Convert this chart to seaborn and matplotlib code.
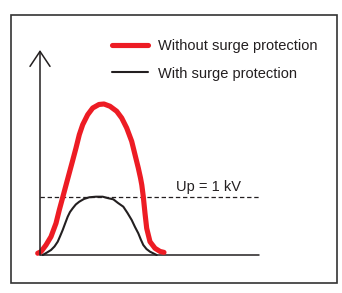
import numpy as np
import pandas as pd
import seaborn as sns
import matplotlib.pyplot as plt
from matplotlib.patches import Rectangle

# curves (time in arbitrary units, voltage in kV)
t_without = [-0.115, 0.05, 0.3, 0.55, 0.8, 0.965, 1.145, 1.325, 1.505, 1.62, 1.8,
             1.965, 2.135, 2.385, 2.635, 2.95, 3.2, 3.5, 3.835, 4.085, 4.335, 4.585,
             4.75, 4.915, 5.025, 5.09, 5.165, 5.25, 5.335, 5.5, 5.75, 6.0, 6.2]
v_without = [0.03, 0.057, 0.172, 0.316, 0.547, 0.776, 1.005, 1.236, 1.466, 1.612, 1.845,
             2.074, 2.247, 2.419, 2.534, 2.595, 2.603, 2.564, 2.478, 2.362, 2.19, 1.96,
             1.729, 1.5, 1.328, 1.207, 1.005, 0.719, 0.46, 0.229, 0.116, 0.062, 0.045]

t_with = [0.135, 0.35, 0.55, 0.725, 0.885, 1.01, 1.135, 1.26, 1.385, 1.5, 1.635, 1.79,
          1.965, 2.2, 2.465, 2.8, 3.135, 3.4, 3.665, 3.9, 4.165, 4.375, 4.585, 4.75,
          4.915, 5.04, 5.165, 5.325, 5.5, 5.835]
v_with = [0.0, 0.043, 0.086, 0.147, 0.229, 0.328, 0.431, 0.547, 0.66, 0.741, 0.805,
          0.871, 0.919, 0.966, 0.995, 1.005, 1.005, 0.98, 0.96, 0.897, 0.833, 0.724,
          0.603, 0.483, 0.374, 0.267, 0.172, 0.103, 0.057, 0.0]

up_level = 1.0
labels = ["Without surge protection", "With surge protection"]

sns.set_style("white")
plt.rcParams['font.family'] = ['Liberation Sans', 'DejaVu Sans']

W, H = 342, 293
fig = plt.figure(figsize=(W / 100, H / 100), dpi=100)
ax = fig.add_axes([40 / W, (H - 255) / H, 219 / W, 205 / H])

df1 = pd.DataFrame({"t": t_without, "v": v_without})
df2 = pd.DataFrame({"t": t_with, "v": v_with})
sns.lineplot(data=df1, x="t", y="v", ax=ax, color="#ed1c24", lw=3.7, sort=False,
             label=labels[0], clip_on=False, solid_capstyle="round",
             solid_joinstyle="round", zorder=3)
sns.lineplot(data=df2, x="t", y="v", ax=ax, color="#231f20", lw=1.5, sort=False,
             label=labels[1], clip_on=False, solid_joinstyle="round", zorder=4)

ax.set_xlim(0, 10.95)
ax.set_ylim(0, 3.534)
ax.axis("off")

# axes lines
ax.axhline(0, color="#231f20", lw=1.1, clip_on=False, zorder=2)
ax.axhline(up_level, color="#231f20", lw=0.9, dashes=(3.5, 2.2), zorder=2)
ax.annotate("", xy=(0, 3.534), xytext=(0, 0), xycoords="data",
            arrowprops=dict(arrowstyle="->,head_length=0.6,head_width=0.4",
                            color="#231f20", lw=1.1, mutation_scale=18,
                            shrinkA=0, shrinkB=0), annotation_clip=False)
ax.text(8.42, 1.10, "Up = 1 kV", ha="center", va="baseline", fontsize=10.5,
        color="#231f20")

leg = ax.legend(loc="center left", bbox_to_anchor=(112 / W, 1 - 60 / H),
                bbox_transform=fig.transFigure, frameon=False, fontsize=10.5,
                handlelength=2.47, handletextpad=0.68, labelspacing=0.9,
                borderpad=0, borderaxespad=0)
for txt in leg.get_texts():
    txt.set_color("#231f20")

fig.add_artist(Rectangle((11 / W, (H - 283) / H), 326 / W, 268 / H,
                         transform=fig.transFigure, fill=False,
                         edgecolor="#333333", lw=1.2))

fig.savefig("out.png", dpi=100)
